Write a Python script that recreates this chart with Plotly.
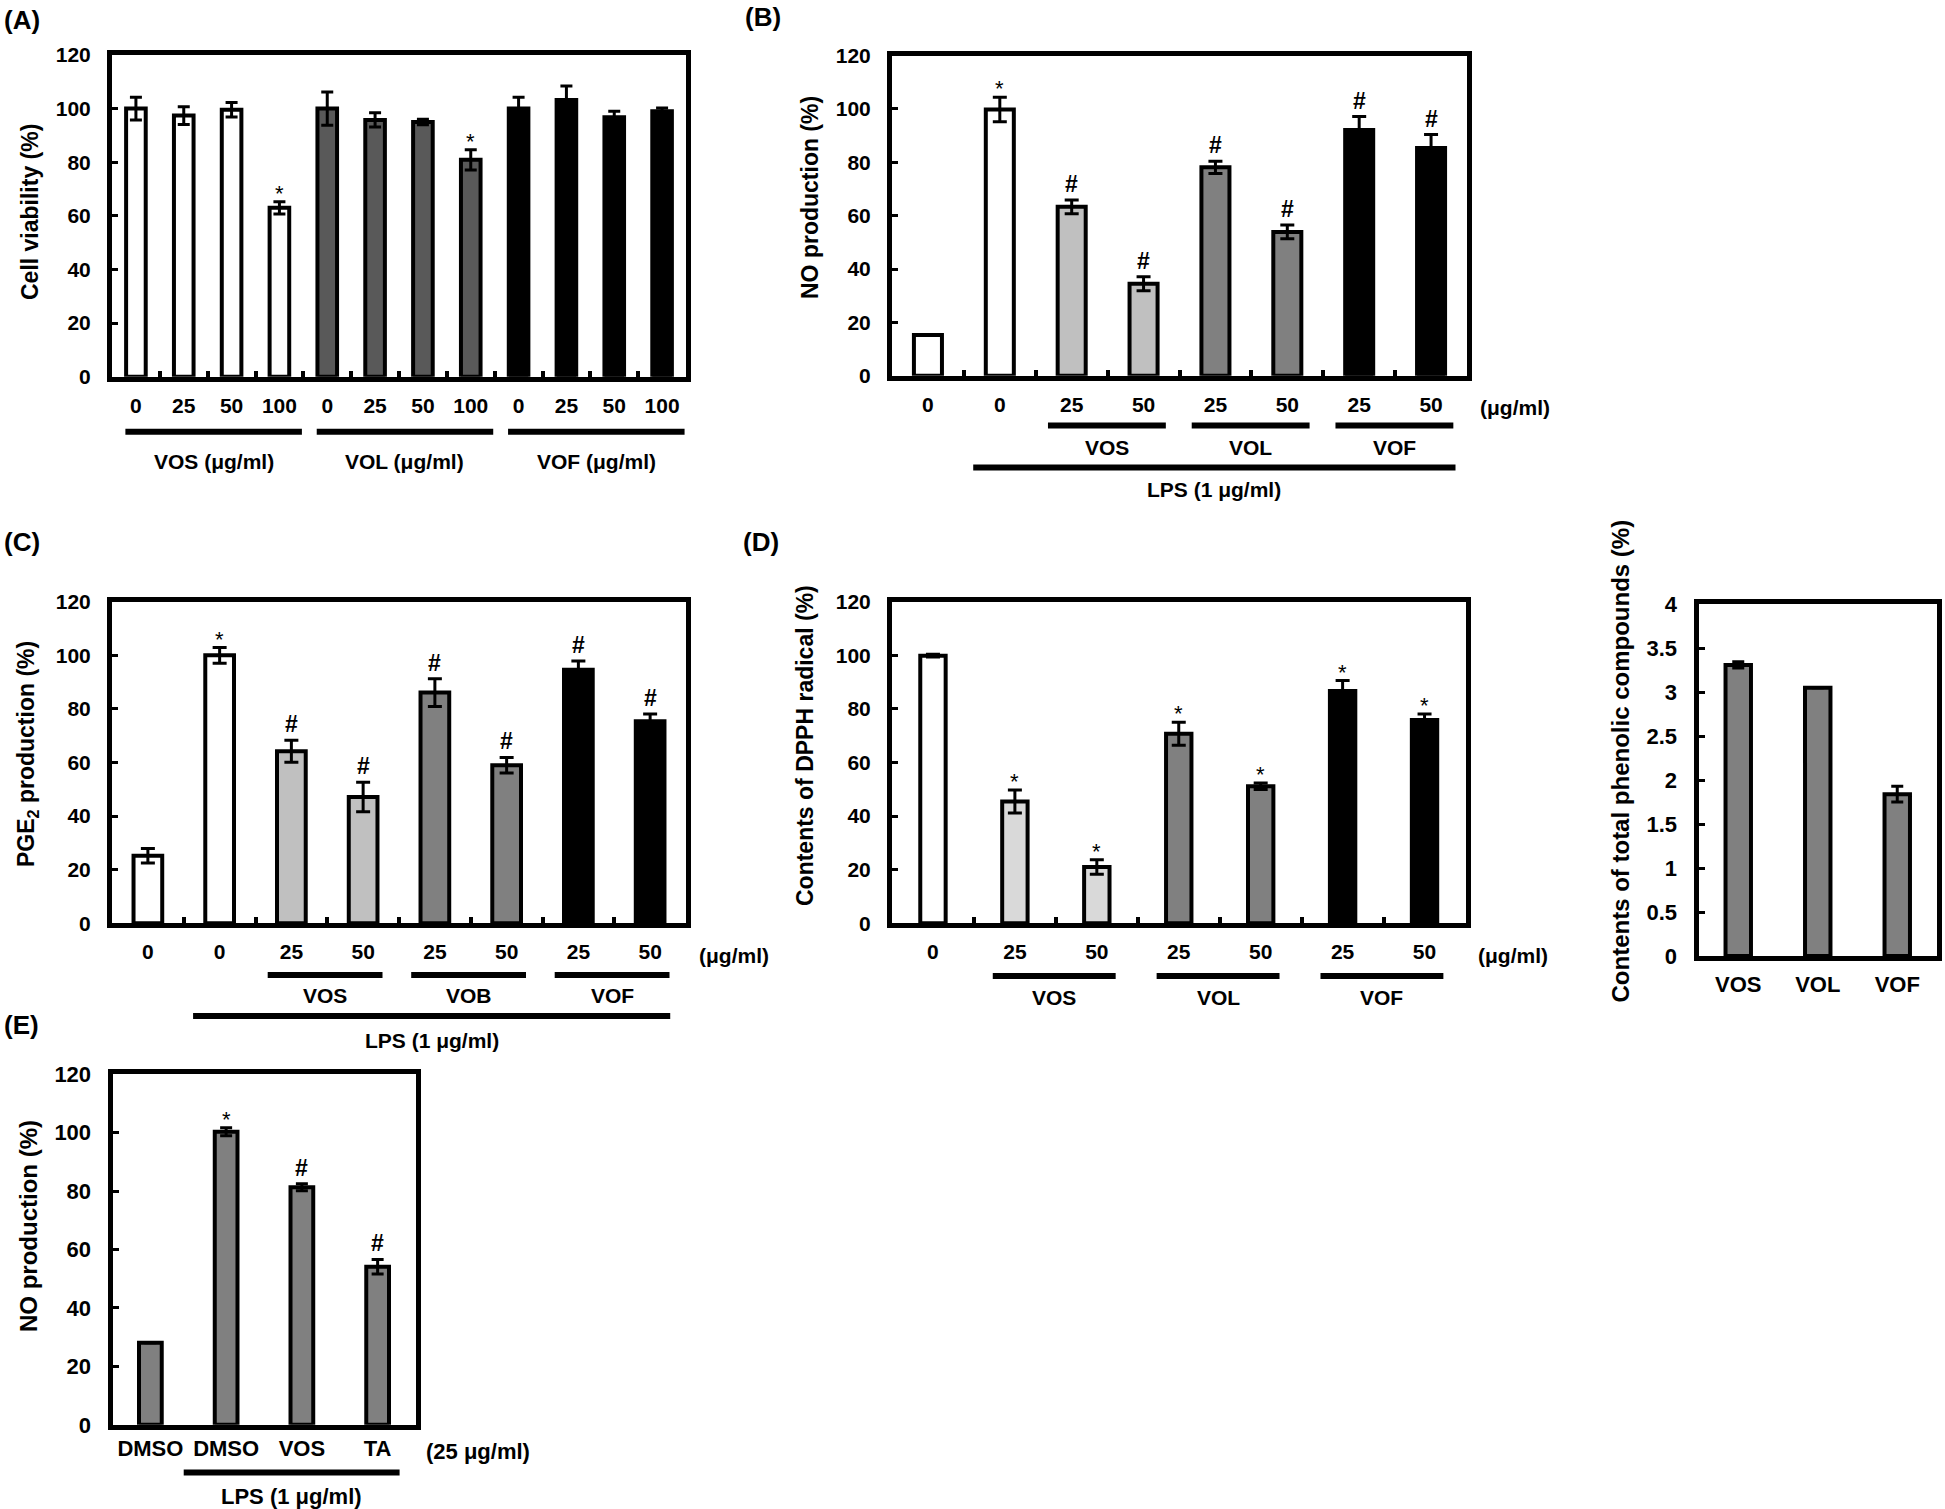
import plotly.graph_objects as go

W, H = 1945, 1509
FONT = "Liberation Sans, Arial, Helvetica, sans-serif"

# ---------------- data ----------------
# (A) Cell viability (%)
A_ticks = ["0", "25", "50", "100", "0", "25", "50", "100", "0", "25", "50", "100"]
A_extract = ["VOS", "VOS", "VOS", "VOS", "VOL", "VOL", "VOL", "VOL", "VOF", "VOF", "VOF", "VOF"]
A_values = [100.0, 97.4, 99.6, 63.0, 100.0, 95.8, 95.0, 80.9, 100.0, 103.2, 96.8, 99.0]
A_errors = [4.2, 3.3, 2.7, 2.3, 6.2, 2.7, 1.0, 3.8, 4.2, 5.2, 2.2, 1.2]
A_marks = ["", "", "", "*", "", "", "", "*", "", "", "", ""]
A_unit = "(μg/ml)"

# (B) NO production (%)
B_ticks = ["0", "0", "25", "50", "25", "50", "25", "50"]
B_extract = ["", "", "VOS", "VOS", "VOL", "VOL", "VOF", "VOF"]
B_lps = [False, True, True, True, True, True, True, True]
B_values = [15.3, 99.8, 63.3, 34.5, 78.1, 53.9, 92.1, 85.3]
B_errors = [0.0, 4.6, 2.6, 2.6, 2.3, 2.6, 5.0, 5.1]
B_marks = ["", "*", "#", "#", "#", "#", "#", "#"]

# (C) PGE2 production (%)
C_ticks = ["0", "0", "25", "50", "25", "50", "25", "50"]
C_extract = ["", "", "VOS", "VOS", "VOB", "VOB", "VOF", "VOF"]
C_lps = [False, True, True, True, True, True, True, True]
C_values = [25.2, 100.0, 64.2, 47.1, 86.1, 59.0, 94.6, 75.4]
C_errors = [2.7, 2.9, 4.1, 5.5, 5.2, 2.9, 3.3, 2.7]
C_marks = ["", "*", "#", "#", "#", "#", "#", "#"]

# (D) Contents of DPPH radical (%)
D_ticks = ["0", "25", "50", "25", "50", "25", "50"]
D_extract = ["", "VOS", "VOS", "VOL", "VOL", "VOF", "VOF"]
D_values = [99.9, 45.4, 21.0, 70.7, 51.1, 86.7, 75.9]
D_errors = [0.5, 4.3, 2.7, 4.3, 1.2, 3.9, 2.2]
D_marks = ["", "*", "*", "*", "*", "*", "*"]

# Total phenolic compounds (%)
P_ticks = ["VOS", "VOL", "VOF"]
P_values = [3.31, 3.05, 1.84]
P_errors = [0.035, 0.0, 0.09]

# (E) NO production (%)
E_ticks = ["DMSO", "DMSO", "VOS", "TA"]
E_lps = [False, True, True, True]
E_values = [28.1, 100.3, 81.3, 54.1]
E_errors = [0.0, 1.4, 1.2, 2.5]
E_marks = ["", "*", "#", "#"]
E_dose = "(25 μg/ml)"

# ---------------- styles ----------------
FILL_A = {"VOS": "#ffffff", "VOL": "#595959", "VOF": "#000000"}
FILL_BC = {"": "#ffffff", "VOS": "#c0c0c0", "VOL": "#808080", "VOB": "#808080", "VOF": "#000000"}
FILL_D = {"": "#ffffff", "VOS": "#d9d9d9", "VOL": "#808080", "VOF": "#000000"}
FILL_GRAY = "#808080"

fig = go.Figure()
annotations = []
shapes = []


def py(y_px):
    return 1 - y_px / H


def px(x_px):
    return x_px / W


def spans(labels):
    out = []
    for name in dict.fromkeys(l for l in labels if l):
        idx = [i for i, l in enumerate(labels) if l == name]
        out.append((name, idx[0], idx[-1]))
    return out


def add_panel(k, ticks, values, errors, colors, marks, box, yrange, ytick_step,
              bar_w, cap_w, boundary_ticks, tick_size, xtick_size,
              ytitle, ytitle_xy, ytitle_size, x_standoff=6, y_standoff=12):
    xa = "x" if k == 1 else f"x{k}"
    ya = "y" if k == 1 else f"y{k}"
    n = len(values)
    xs = list(range(n))
    fig.add_trace(go.Bar(
        x=xs, y=values, width=bar_w, xaxis=xa, yaxis=ya, showlegend=False,
        hoverinfo="skip",
        marker=dict(color=colors, line=dict(color="black", width=4)),
        error_y=dict(type="data", array=errors, visible=True, color="black",
                     thickness=3, width=cap_w),
    ))
    x0, x1, y0, y1 = box
    axis_common = dict(showline=True, linewidth=5, linecolor="black", mirror=True,
                       showgrid=False, zeroline=False, automargin=False, fixedrange=True)
    xdict = dict(domain=[px(x0), px(x1)], range=[-0.5, n - 0.5], anchor=ya,
                 tickmode="array", tickvals=xs, ticktext=ticks, ticks="",
                 ticklabelstandoff=x_standoff,
                 tickfont=dict(family=FONT, size=xtick_size, color="black", weight="bold"),
                 **axis_common)
    if boundary_ticks:
        xdict["minor"] = dict(tickmode="array", tickvals=[i + 0.5 for i in range(n - 1)],
                              ticks="inside", ticklen=6, tickwidth=4, tickcolor="black")
    nt = int(round((yrange[1] - yrange[0]) / ytick_step))
    yt = [yrange[0] + i * ytick_step for i in range(nt + 1)]
    ydict = dict(domain=[py(y1), py(y0)], range=list(yrange), anchor=xa,
                 tickmode="array", tickvals=yt,
                 ticktext=[(f"{v:g}") for v in yt],
                 ticks="inside", ticklen=6, tickwidth=3, tickcolor="black",
                 ticklabelstandoff=y_standoff,
                 tickfont=dict(family=FONT, size=tick_size, color="black", weight="bold"),
                 **axis_common)
    key = "" if k == 1 else str(k)
    fig.update_layout(**{f"xaxis{key}": xdict, f"yaxis{key}": ydict})

    # significance marks
    if marks:
        for i, m in enumerate(marks):
            if m:
                star = (m == "*")
                annotations.append(dict(
                    x=i, y=values[i] + errors[i], xref=xa, yref=ya, text=m,
                    showarrow=False, yanchor="bottom",
                    yshift=(-6 if star else 1),
                    font=dict(family=FONT, size=(22 if star else 23), color="black",
                              weight=("normal" if star else "bold"))))
    # y title
    annotations.append(dict(
        x=px(ytitle_xy[0]), y=py(ytitle_xy[1]), xref="paper", yref="paper",
        text=ytitle, textangle=-90, showarrow=False, xanchor="center", yanchor="middle",
        font=dict(family=FONT, size=ytitle_size, color="black", weight="bold")))
    return xa


def bracket(xa, i0, i1, pad_l, pad_r, y_line, label, y_label, size=21, lw=6):
    shapes.append(dict(type="line", xref=xa, yref="paper",
                       x0=i0 - pad_l, x1=i1 + pad_r, y0=py(y_line), y1=py(y_line),
                       line=dict(color="black", width=lw)))
    annotations.append(dict(x=(i0 - pad_l + i1 + pad_r) / 2, y=py(y_label), xref=xa,
                            yref="paper", text=label, showarrow=False,
                            xanchor="center", yanchor="middle",
                            font=dict(family=FONT, size=size, color="black", weight="bold")))


def paper_text(x_px, y_px, text, size=21, xanchor="center"):
    annotations.append(dict(x=px(x_px), y=py(y_px), xref="paper", yref="paper", text=text,
                            showarrow=False, xanchor=xanchor, yanchor="middle",
                            font=dict(family=FONT, size=size, color="black", weight="bold")))


# ---------- Panel A ----------
xa = add_panel(1, A_ticks, A_values, A_errors, [FILL_A[g] for g in A_extract], A_marks,
               box=(112, 686, 55, 376.7), yrange=(0, 120), ytick_step=20,
               bar_w=0.41, cap_w=6, boundary_ticks=True, tick_size=21, xtick_size=21,
               ytitle="Cell viability (%)", ytitle_xy=(30, 212), ytitle_size=23)
for name, i0, i1 in spans(A_extract):
    bracket(xa, i0, i1, 0.22, 0.47, 431.7, f"{name} {A_unit}", 461.5)

# ---------- Panel B ----------
xa = add_panel(2, B_ticks, B_values, B_errors, [FILL_BC[g] for g in B_extract], B_marks,
               box=(892, 1467, 55.5, 375.8), yrange=(0, 120), ytick_step=20,
               bar_w=0.39, cap_w=7, boundary_ticks=True, tick_size=21, xtick_size=21,
               ytitle="NO production (%)", ytitle_xy=(810, 198), ytitle_size=23)
for name, i0, i1 in spans(B_extract):
    bracket(xa, i0, i1, 0.33, 0.31, 425.5, name, 447.5)
lps_idx = [i for i, f in enumerate(B_lps) if f]
bracket(xa, lps_idx[0], lps_idx[-1], 0.37, 0.34, 467.5, "LPS (1 μg/ml)", 490)
paper_text(1478, 407, A_unit, xanchor="left")

# ---------- Panel C ----------
xa = add_panel(3, C_ticks, C_values, C_errors, [FILL_BC[g] for g in C_extract], C_marks,
               box=(112, 686, 601.8, 923.2), yrange=(0, 120), ytick_step=20,
               bar_w=0.40, cap_w=7, boundary_ticks=True, tick_size=21, xtick_size=21,
               ytitle="PGE<sub>2</sub> production (%)", ytitle_xy=(28, 754),
               ytitle_size=23)
for name, i0, i1 in spans(C_extract):
    bracket(xa, i0, i1, 0.33, 0.27, 975, name, 995)
lps_idx = [i for i, f in enumerate(C_lps) if f]
bracket(xa, lps_idx[0], lps_idx[-1], 0.37, 0.28, 1016, "LPS (1 μg/ml)", 1040)
paper_text(697, 955, A_unit, xanchor="left")

# ---------- Panel D ----------
xa = add_panel(4, D_ticks, D_values, D_errors, [FILL_D[g] for g in D_extract], D_marks,
               box=(892, 1465.5, 601.8, 923.2), yrange=(0, 120), ytick_step=20,
               bar_w=0.31, cap_w=7, boundary_ticks=True, tick_size=21, xtick_size=21,
               ytitle="Contents of DPPH radical (%)", ytitle_xy=(805, 746),
               ytitle_size=23)
for name, i0, i1 in spans(D_extract):
    bracket(xa, i0, i1, 0.27, 0.23, 976, name, 997)
paper_text(1476, 955, A_unit, xanchor="left")

# ---------- Phenolic panel ----------
add_panel(5, P_ticks, P_values, P_errors, [FILL_GRAY] * len(P_values), None,
          box=(1698.5, 1937, 604.2, 956), yrange=(0, 4), ytick_step=0.5,
          bar_w=0.32, cap_w=6, boundary_ticks=False, tick_size=22, xtick_size=22,
          ytitle="Contents of total phenolic compounds (%)",
          ytitle_xy=(1619.5, 761), ytitle_size=24, x_standoff=5)

# ---------- Panel E ----------
xa = add_panel(6, E_ticks, E_values, E_errors, [FILL_GRAY] * len(E_values), E_marks,
               box=(112.5, 415.5, 1074.2, 1424.8), yrange=(0, 120), ytick_step=20,
               bar_w=0.30, cap_w=6, boundary_ticks=False, tick_size=22, xtick_size=22,
               ytitle="NO production (%)", ytitle_xy=(28, 1226),
               ytitle_size=24, x_standoff=0)
lps_idx = [i for i, f in enumerate(E_lps) if f]
bracket(xa, lps_idx[0], lps_idx[-1], 0.56, 0.29, 1472.5, "LPS (1 μg/ml)", 1496, size=22)
paper_text(424, 1451.5, E_dose, size=22, xanchor="left")

# ---------- panel letters ----------
for letter, (lx, ly) in {"(A)": (2, 20), "(B)": (743, 17), "(C)": (2, 542),
                         "(D)": (741, 542), "(E)": (2, 1025)}.items():
    paper_text(lx, ly, letter, size=26, xanchor="left")

fig.update_layout(
    width=W, height=H,
    margin=dict(l=0, r=0, t=0, b=0, pad=0, autoexpand=False),
    paper_bgcolor="white", plot_bgcolor="white",
    font=dict(family=FONT, color="black"),
    annotations=annotations, shapes=shapes, bargap=0, showlegend=False,
)
fig.write_html("out.html", config={"displayModeBar": False, "staticPlot": True},
               post_script="document.body.style.margin='0';document.body.style.overflow='hidden';")
